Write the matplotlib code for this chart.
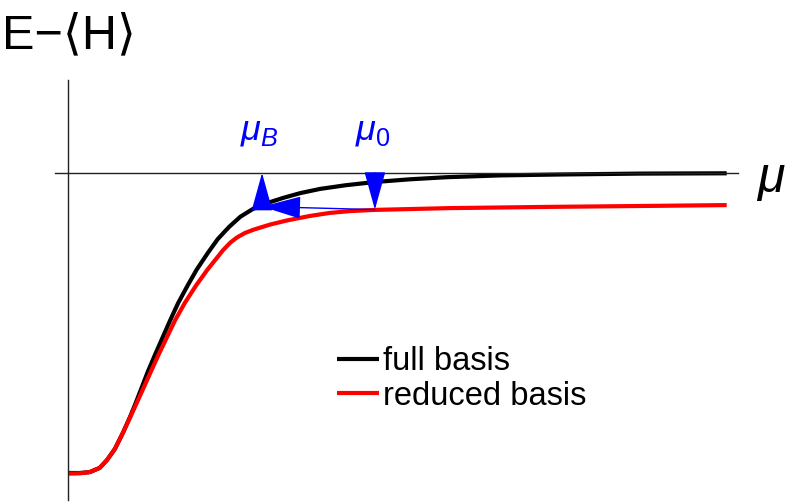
import matplotlib
matplotlib.use("Agg")
import matplotlib.pyplot as plt

# curves (mu, E - <H>)
mu_full = [0.00, 0.18, 0.33, 0.48, 0.59, 0.71, 0.83, 0.94, 1.02, 1.11, 1.21,
           1.33, 1.44, 1.55, 1.67, 1.82, 1.95, 2.12, 2.27, 2.44, 2.61, 2.80,
           3.02, 3.26, 3.52, 3.82, 4.20, 4.65, 5.18, 5.74, 6.55, 7.45, 8.67, 9.98]
E_full = [-10.00, -10.00, -9.97, -9.83, -9.57, -9.20, -8.67, -8.13, -7.70, -7.19, -6.62,
          -6.00, -5.45, -4.90, -4.33, -3.72, -3.22, -2.66, -2.20, -1.80, -1.46, -1.20,
          -1.00, -0.83, -0.67, -0.53, -0.41, -0.30, -0.21, -0.14, -0.08, -0.05, -0.02, -0.01]

mu_red = [0.00, 0.18, 0.33, 0.48, 0.59, 0.71, 0.83, 0.94, 1.02, 1.09, 1.18,
          1.27, 1.38, 1.50, 1.62, 1.77, 1.94, 2.11, 2.23, 2.35, 2.46, 2.56, 2.68,
          2.81, 3.06, 3.32, 3.67, 3.97, 4.27, 4.65, 5.79, 7.26, 8.67, 9.98]
E_red = [-10.02, -10.01, -9.97, -9.83, -9.57, -9.20, -8.67, -8.15, -7.77, -7.43, -6.99,
         -6.55, -6.02, -5.47, -4.92, -4.33, -3.75, -3.23, -2.90, -2.57, -2.32, -2.15, -2.00,
         -1.89, -1.72, -1.58, -1.43, -1.33, -1.27, -1.23, -1.17, -1.13, -1.10, -1.07]

mu0 = 4.65
E_mu0 = -1.22
muB = 2.94
E_muB = -1.12

labels = ["full basis", "reduced basis"]

W, H = 789, 504
fig = plt.figure(figsize=(W / 100, H / 100), dpi=100)
ax = fig.add_axes([0, 0, 1, 1])
ax.set_xlim(-68 / 66, 721 / 66)
ax.set_ylim(-331 / 30, 173 / 30)

for s in ["top", "right"]:
    ax.spines[s].set_visible(False)
ax.spines["left"].set_position(("data", 0))
ax.spines["bottom"].set_position(("data", 0))
ax.spines["left"].set_bounds(-10.9, 3.1)
ax.spines["bottom"].set_bounds(-0.2, 10.15)
for s in ["left", "bottom"]:
    ax.spines[s].set_linewidth(1.0)
    ax.spines[s].set_color("#222222")
ax.set_xticks([])
ax.set_yticks([])
ax.patch.set_visible(False)

ax.plot(mu_full, E_full, color="black", lw=3.0, solid_joinstyle="round",
        solid_capstyle="butt", label=labels[0])
ax.plot(mu_red, E_red, color="red", lw=3.0, solid_joinstyle="round",
        solid_capstyle="butt", label=labels[1])

blue = "#0000ff"
hs = "-|>,head_length=2.45,head_width=0.68"
# mu0 down to reduced curve
ax.annotate("", xy=(mu0, E_mu0), xytext=(mu0, 0),
            arrowprops=dict(arrowstyle=hs, color=blue, lw=1.0, mutation_scale=10,
                            shrinkA=0, shrinkB=0))
# across to full curve
ax.annotate("", xy=(muB, E_muB), xytext=(mu0, E_mu0),
            arrowprops=dict(arrowstyle="-|>,head_length=2.5,head_width=0.72", color=blue,
                            lw=1.0, mutation_scale=10, shrinkA=0, shrinkB=0))
# muB up to axis
ax.annotate("", xy=(muB, 0), xytext=(muB, E_muB),
            arrowprops=dict(arrowstyle=hs, color=blue, lw=1.0, mutation_scale=10,
                            shrinkA=0, shrinkB=0))

plt.rcParams["mathtext.fontset"] = "custom"
plt.rcParams["mathtext.rm"] = "Liberation Sans"
plt.rcParams["mathtext.it"] = "Liberation Sans:italic"

fam = ["Liberation Sans", "DejaVu Sans"]
fig.text(2 / W, 1 - 48 / H, "E\u2212\u27e8H\u27e9", fontsize=35, family=fam,
         ha="left", va="baseline")
fig.text(757 / W, 1 - 192 / H, "\u03bc", fontsize=36, family=fam, style="italic",
         ha="left", va="baseline")
fig.text(240 / W, 1 - 139 / H, r"$\mu_B$", fontsize=26, color=blue,
         ha="left", va="baseline")
fig.text(355 / W, 1 - 139 / H, r"$\mu_0$", fontsize=26, color=blue,
         ha="left", va="baseline")

leg = ax.legend(loc="upper left", bbox_to_anchor=(337 / W, 1 - 346 / H),
                bbox_transform=fig.transFigure, frameon=False,
                prop={"family": fam, "size": 23.5},
                handlelength=1.3, handletextpad=0.1, labelspacing=0.12,
                borderpad=0, borderaxespad=0)

fig.savefig("out.png", dpi=100)
